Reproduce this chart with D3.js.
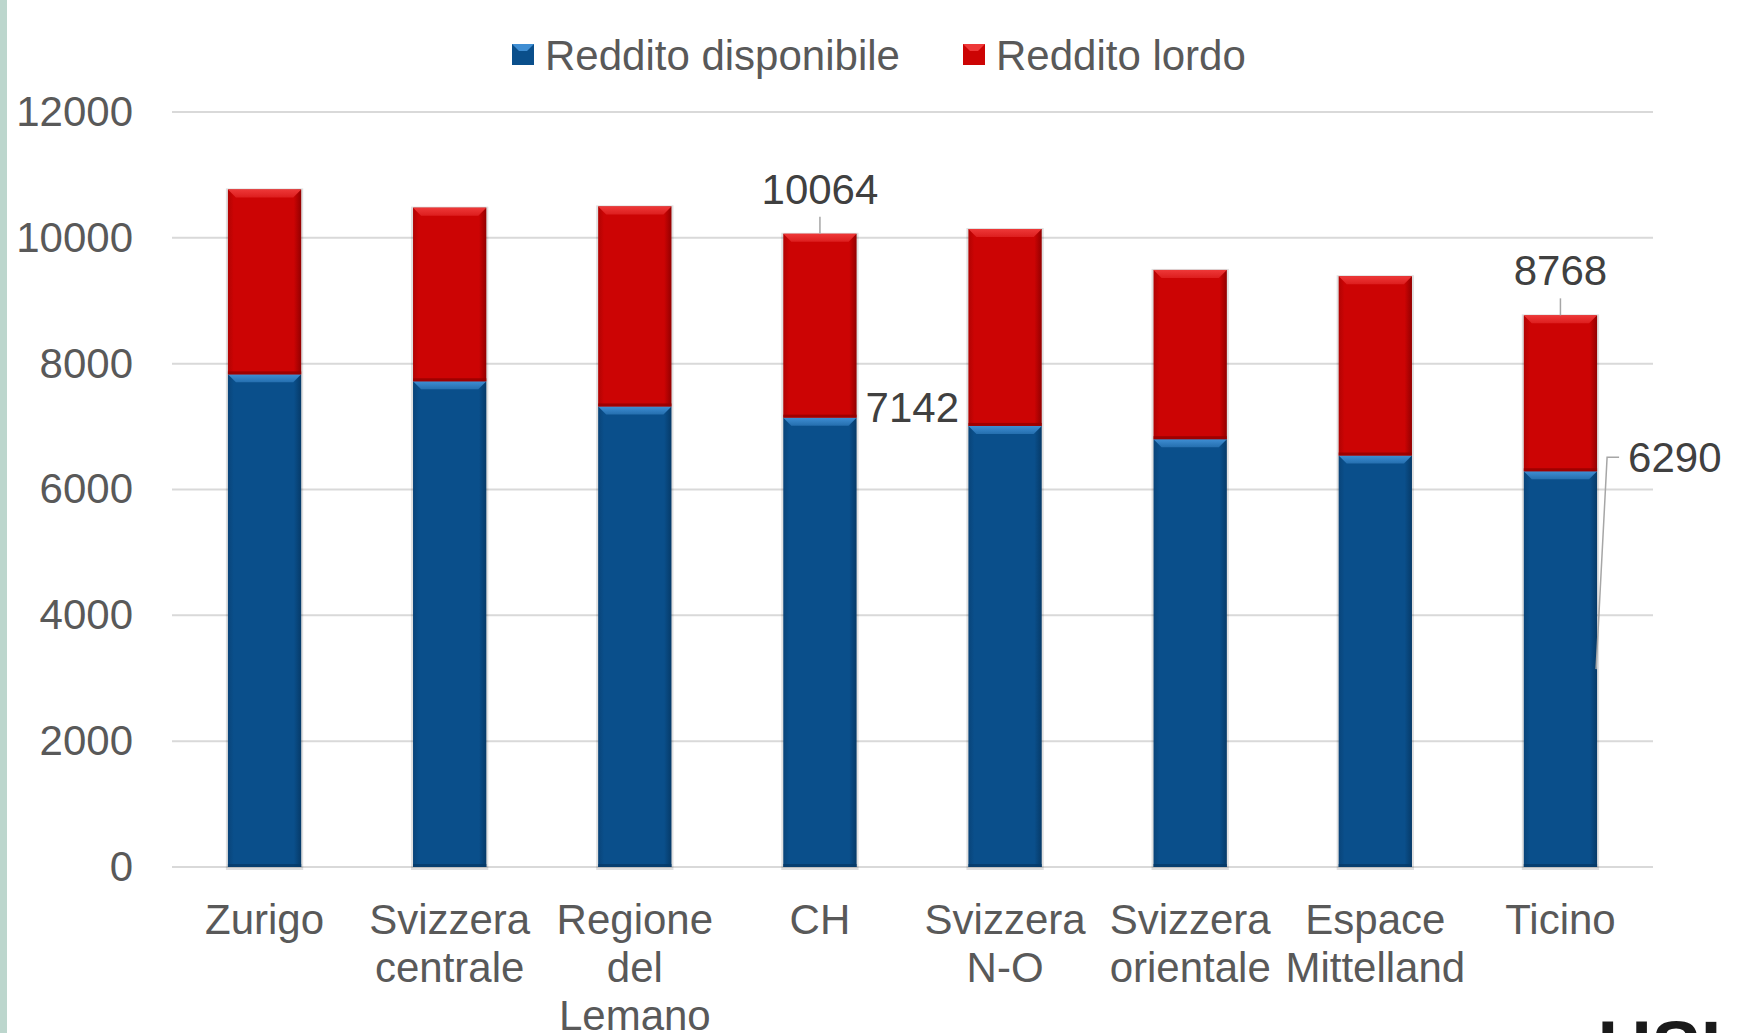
<!DOCTYPE html>
<html>
<head>
<meta charset="utf-8">
<script src="https://cdn.jsdelivr.net/npm/d3@7/dist/d3.min.js"></script>
<style>
	body { margin: 0; background: #fff; overflow: hidden; }
	text { font-family: "Liberation Sans", Arial, sans-serif; }
</style>
</head>
<body>
<div id="chart"></div>
<script>
// dati
var regioni = ["Zurigo", "Svizzera centrale", "Regione del Lemano", "CH", "Svizzera N-O", "Svizzera orientale", "Espace Mittelland", "Ticino"];
var redditoDisponibile = [7830, 7720, 7320, 7142, 7010, 6800, 6540, 6290];
var redditoLordo = [10770, 10480, 10500, 10064, 10140, 9490, 9390, 8768];
var yTicks = [0, 2000, 4000, 6000, 8000, 10000, 12000];
var serie = ["Reddito disponibile", "Reddito lordo"];
var coloriSerie = ["#0a4f8b", "#cc0404"];
var etichetteRegioni = ["CH", "Ticino"];

var width = 1743, height = 1033;
var margin = {left: 172, right: 90, top: 112, bottom: 166};

var svg = d3.select("#chart").append("svg")
	.attr("width", width)
	.attr("height", height);

// barra verticale a sinistra
svg.append("rect")
	.attr("x", 0).attr("y", 0)
	.attr("width", 7).attr("height", height)
	.style("fill", "#bcd6cd");

var x = d3.scaleBand()
	.domain(regioni)
	.range([margin.left, width - margin.right])
	.paddingInner(0.604)
	.paddingOuter(0.302);

var y = d3.scaleLinear()
	.domain([0, 12000])
	.range([height - margin.bottom, margin.top]);

// griglia
svg.append("g").selectAll("line")
	.data(yTicks)
	.enter().append("line")
	.attr("x1", margin.left)
	.attr("x2", width - margin.right)
	.attr("y1", function(d) { return y(d); })
	.attr("y2", function(d) { return y(d); })
	.style("stroke", "#d9d9d9")
	.style("stroke-width", 2);

// asse y
var yAxis = svg.append("g")
	.attr("transform", "translate(" + (margin.left - 39) + ",0)")
	.call(d3.axisLeft(y).tickValues(yTicks).tickSize(0).tickPadding(0).tickFormat(d3.format("d")));
yAxis.select(".domain").remove();
yAxis.selectAll("text")
	.style("font-size", "42px")
	.style("fill", "#595959")
	.style("font-family", "'Liberation Sans', Arial, sans-serif");

// asse x (etichette su piu righe)
var xAxis = svg.append("g")
	.attr("transform", "translate(0," + (height - margin.bottom) + ")")
	.call(d3.axisBottom(x).tickSize(0).tickFormat(""));
xAxis.select(".domain").remove();
xAxis.selectAll(".tick").each(function(d) {
	var parole = d.split(" ");
	var t = d3.select(this).append("text")
		.attr("text-anchor", "middle")
		.style("font-size", "42px")
		.style("fill", "#595959");
	for (var i = 0; i < parole.length; i++) {
		t.append("tspan")
			.attr("x", 0)
			.attr("y", 67 + i * 48)
			.text(parole[i]);
	}
});

// gradienti per l'effetto smussato
var defs = svg.append("defs");
var chiari = ["#3f8ed3", "#ee3838"];
var scuri = ["#063a68", "#930000"];
serie.forEach(function(s, k) {
	var g = defs.append("linearGradient")
		.attr("id", "grad" + k)
		.attr("x1", "0%").attr("x2", "100%").attr("y1", "0%").attr("y2", "0%");
	g.append("stop").attr("offset", "0%").attr("stop-color", d3.color(coloriSerie[k]).darker(0.4));
	g.append("stop").attr("offset", "8%").attr("stop-color", coloriSerie[k]);
	g.append("stop").attr("offset", "90%").attr("stop-color", coloriSerie[k]);
	g.append("stop").attr("offset", "100%").attr("stop-color", scuri[k]);
	var b = defs.append("linearGradient")
		.attr("id", "bev" + k)
		.attr("x1", "0%").attr("x2", "0%").attr("y1", "0%").attr("y2", "100%");
	b.append("stop").attr("offset", "0%").attr("stop-color", chiari[k]);
	b.append("stop").attr("offset", "100%").attr("stop-color", d3.interpolateRgb(chiari[k], coloriSerie[k])(0.5));
});

var segmenti = [];
regioni.forEach(function(r, i) {
	segmenti.push({regione: r, k: 0, y0: 0, y1: redditoDisponibile[i]});
	segmenti.push({regione: r, k: 1, y0: redditoDisponibile[i], y1: redditoLordo[i]});
});

var bw = x.bandwidth();
var bevel = 8;

// ombra
svg.append("g").selectAll("rect")
	.data(regioni)
	.enter().append("rect")
	.attr("x", function(d) { return x(d) - 2; })
	.attr("y", function(d, i) { return y(redditoLordo[i]) - 1; })
	.attr("width", bw + 4)
	.attr("height", function(d, i) { return y(0) - y(redditoLordo[i]) + 4; })
	.style("fill", "#000")
	.style("opacity", 0.12);

var seg = svg.append("g").selectAll("g")
	.data(segmenti)
	.enter().append("g");

seg.append("rect")
	.attr("x", function(d) { return x(d.regione); })
	.attr("y", function(d) { return y(d.y1); })
	.attr("width", bw)
	.attr("height", function(d) { return y(d.y0) - y(d.y1); })
	.style("fill", function(d) { return "url(#grad" + d.k + ")"; });

// bordo smussato in alto
seg.append("path")
	.attr("d", function(d) {
		var x0 = x(d.regione), x1 = x0 + bw, yt = y(d.y1);
		return "M" + x0 + "," + yt + "L" + x1 + "," + yt + "L" + (x1 - bevel) + "," + (yt + bevel) + "L" + (x0 + bevel) + "," + (yt + bevel) + "Z";
	})
	.style("fill", function(d) { return "url(#bev" + d.k + ")"; });

// linea scura in basso
seg.append("rect")
	.attr("x", function(d) { return x(d.regione); })
	.attr("y", function(d) { return y(d.y0) - 3; })
	.attr("width", bw)
	.attr("height", 3)
	.style("fill", function(d) { return scuri[d.k]; })
	.style("opacity", 0.8);

// etichette dei dati
var etichette = svg.append("g");
etichetteRegioni.forEach(function(r) {
	var i = regioni.indexOf(r);
	var cx = x(r) + bw / 2;
	var top = y(redditoLordo[i]);
	etichette.append("line")
		.attr("x1", cx).attr("x2", cx)
		.attr("y1", top - 17).attr("y2", top)
		.style("stroke", "#a6a6a6").style("stroke-width", 1.5);
	etichette.append("text")
		.attr("x", cx)
		.attr("y", top - 45)
		.attr("dy", "0.35em")
		.attr("text-anchor", "middle")
		.style("font-size", "42px")
		.style("fill", "#404040")
		.text(redditoLordo[i]);

	var xr = x(r) + bw;
	var yd = y(redditoDisponibile[i]);
	if (r == "Ticino") {
		var ly = yd - 14;
		etichette.append("polyline")
			.attr("points", (xr + 22) + "," + ly + " " + (xr + 10) + "," + ly + " " + (xr - 1) + "," + y(redditoDisponibile[i] / 2))
			.style("fill", "none")
			.style("stroke", "#a6a6a6").style("stroke-width", 1.5);
		etichette.append("text")
			.attr("x", xr + 31)
			.attr("y", ly)
			.attr("dy", "0.35em")
			.style("font-size", "42px")
			.style("fill", "#404040")
			.text(redditoDisponibile[i]);
	} else {
		etichette.append("text")
			.attr("x", xr + 9)
			.attr("y", yd - 10)
			.attr("dy", "0.35em")
			.style("font-size", "42px")
			.style("fill", "#404040")
			.text(redditoDisponibile[i]);
	}
});

// legenda
var leg = svg.append("g");
var legX = [512, 963];
serie.forEach(function(s, k) {
	var g = leg.append("g").attr("transform", "translate(" + legX[k] + ",44)");
	g.append("rect").attr("width", 22).attr("height", 21).style("fill", coloriSerie[k]);
	g.append("path")
		.attr("d", "M0,0L22,0L15,7L7,7Z")
		.style("fill", chiari[k]);
	g.append("text")
		.attr("x", 33)
		.attr("y", 11)
		.attr("dy", "0.35em")
		.style("font-size", "42px")
		.style("fill", "#595959")
		.text(s);
});

// logo in basso a destra (tagliato)
svg.append("text")
	.attr("x", 1598)
	.attr("y", 1073)
	.style("font-size", "74px")
	.style("font-weight", "bold")
	.style("fill", "#1a1a1a")
	.text("USI");
</script>
</body>
</html>
